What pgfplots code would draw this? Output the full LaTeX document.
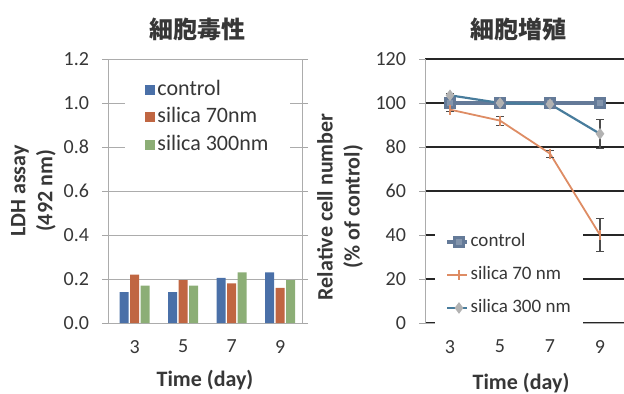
\documentclass[border=0pt]{standalone}
\usepackage{pgfplots}
\pgfplotsset{compat=1.18}
\usepackage{fontspec}
\setmainfont{Carlito}
\newfontfamily\cjk{Noto Sans CJK JP}
\definecolor{cA}{RGB}{74,112,168}
\definecolor{cB}{RGB}{192,102,66}
\definecolor{cC}{RGB}{140,174,118}
\definecolor{lA}{RGB}{100,122,152}
\definecolor{lB}{RGB}{222,140,100}
\definecolor{lC}{RGB}{72,124,156}
\definecolor{txt}{RGB}{55,55,55}
\pgfplotsset{
  sqlegend/.style={legend image code/.code={\fill[##1] (0pt,-2.5pt) rectangle (5pt,2.5pt);}},
  common/.style={
    scale only axis, height=132pt,
    tick label style={font=\fontsize{10}{12}\selectfont, text=txt},
    /pgf/number format/assume math mode=true,
    xtick style={draw=none},
    ytick style={gray!70},
    tick align=outside, major tick length=3pt,
    ymajorgrids,
    label style={font=\bfseries\fontsize{11}{13.5}\selectfont, text=txt},
    title style={font=\bfseries\fontsize{12}{14}\selectfont, text=txt},
    legend cell align=left,
  }
}
\begin{document}
\begin{tikzpicture}
\path[use as bounding box] (0pt,0pt) rectangle (312pt,196.5pt);
% ---------------- left chart ----------------
\begin{axis}[common,
  at={(54pt,35pt)}, anchor=south west, width=97pt,
  ybar=0.75pt, bar width=4.5pt,
  xmin=-0.55, xmax=3.45, ymin=0, ymax=1.2,
  xtick={0,1,2,3}, xticklabels={3,5,7,9},
  ytick={0,0.2,0.4,0.6,0.8,1.0,1.2},
  yticklabel style={/pgf/number format/.cd, fixed, fixed zerofill, precision=1},
  xticklabel shift=2pt, yticklabel shift=3pt,
  axis line style={gray!65},
  grid style={gray!65, line width=0.5pt},
  title={\cjk 細胞毒性},
  title style={at={(axis description cs:0.459,1)}, anchor=center, yshift=9pt},
  xlabel={Time (day)},
  xlabel style={at={(axis description cs:0.5,0)}, anchor=center, yshift=-28.5pt},
  ylabel={LDH assay\\(492 nm)},
  ylabel style={at={(axis description cs:-0.384,0.5)}, rotate=0, anchor=center, align=center},
  legend style={at={(axis description cs:0.088,0.958)}, anchor=north west,
    draw=none, fill=white, inner xsep=10pt, inner ysep=4pt,
    font=\fontsize{11}{13}\selectfont, text=txt,
    nodes={inner sep=1pt, text height=7.5pt, text depth=2pt}, row sep=2.25pt},
]
\addplot[fill=cA, draw=none, sqlegend] coordinates {(0,0.14) (1,0.14) (2,0.205) (3,0.23)};
\addplot[fill=cB, draw=none, sqlegend] coordinates {(0,0.22) (1,0.195) (2,0.18) (3,0.16)};
\addplot[fill=cC, draw=none, sqlegend] coordinates {(0,0.17) (1,0.17) (2,0.23) (3,0.195)};
\legend{control, silica 70nm, silica 300nm}
\end{axis}
% ---------------- right chart ----------------
\begin{axis}[common,
  at={(212.5pt,35pt)}, anchor=south west, width=100pt,
  xmin=2, xmax=10, ymin=0, ymax=120,
  xtick={3,5,7,9}, ytick={0,20,40,60,80,100,120},
  axis x line*=bottom, axis y line*=left,
  xticklabel shift=2pt, yticklabel shift=3pt,
  axis line style={gray!65},
  grid style={black!85, line width=0.8pt},
  title={\cjk 細胞増殖},
  title style={at={(axis description cs:0.465,1)}, anchor=center, yshift=9pt},
  xlabel={Time (day)},
  xlabel style={at={(axis description cs:0.48,0)}, anchor=center, yshift=-30pt},
  ylabel={Relative cell number\\(\% of control)},
  ylabel style={at={(axis description cs:-0.425,0.44)}, rotate=0, anchor=center, align=center},
  legend image code/.code={\draw[mark repeat=2, mark phase=2, #1] plot coordinates {(0pt,0pt) (6pt,0pt) (10pt,0pt)};},
  legend style={at={(axis description cs:0.05,0.373)}, anchor=north west,
    draw=none, fill=white, inner xsep=5pt, inner ysep=3pt,
    font=\fontsize{9.5}{12}\selectfont, text=txt,
    nodes={inner sep=1pt, text height=7pt, text depth=2pt}, row sep=5.5pt},
]
\addplot[color=lA, line width=1.6pt, mark=square*, mark size=2.2pt, mark options={fill=lA!80}]
  coordinates {(3,100) (5,100) (7,100) (9,100)};
\addplot[color=lB, line width=0.9pt, mark=|, mark size=2.5pt,
  error bars/.cd, y dir=both, y explicit, error bar style={black!70, line width=0.6pt}, error mark options={rotate=90, mark size=2pt, black!70}]
  coordinates {(3,97) +- (0,1) (5,92) +- (0,2) (7,77) +- (0,1.5) (9,40) +- (0,7.5)};
\addplot[color=lC, line width=1.1pt, mark=diamond*, mark size=2pt, mark options={fill=gray!60, draw=gray!60},
  error bars/.cd, y dir=both, y explicit, error bar style={black!70, line width=0.6pt}, error mark options={rotate=90, mark size=2pt, black!70}]
  coordinates {(3,103.5) +- (0,1) (5,100) +- (0,0.5) (7,99.5) +- (0,1) (9,86) +- (0,6.5)};
\legend{control, silica 70 nm, silica 300 nm}
\end{axis}
\end{tikzpicture}
\end{document}
